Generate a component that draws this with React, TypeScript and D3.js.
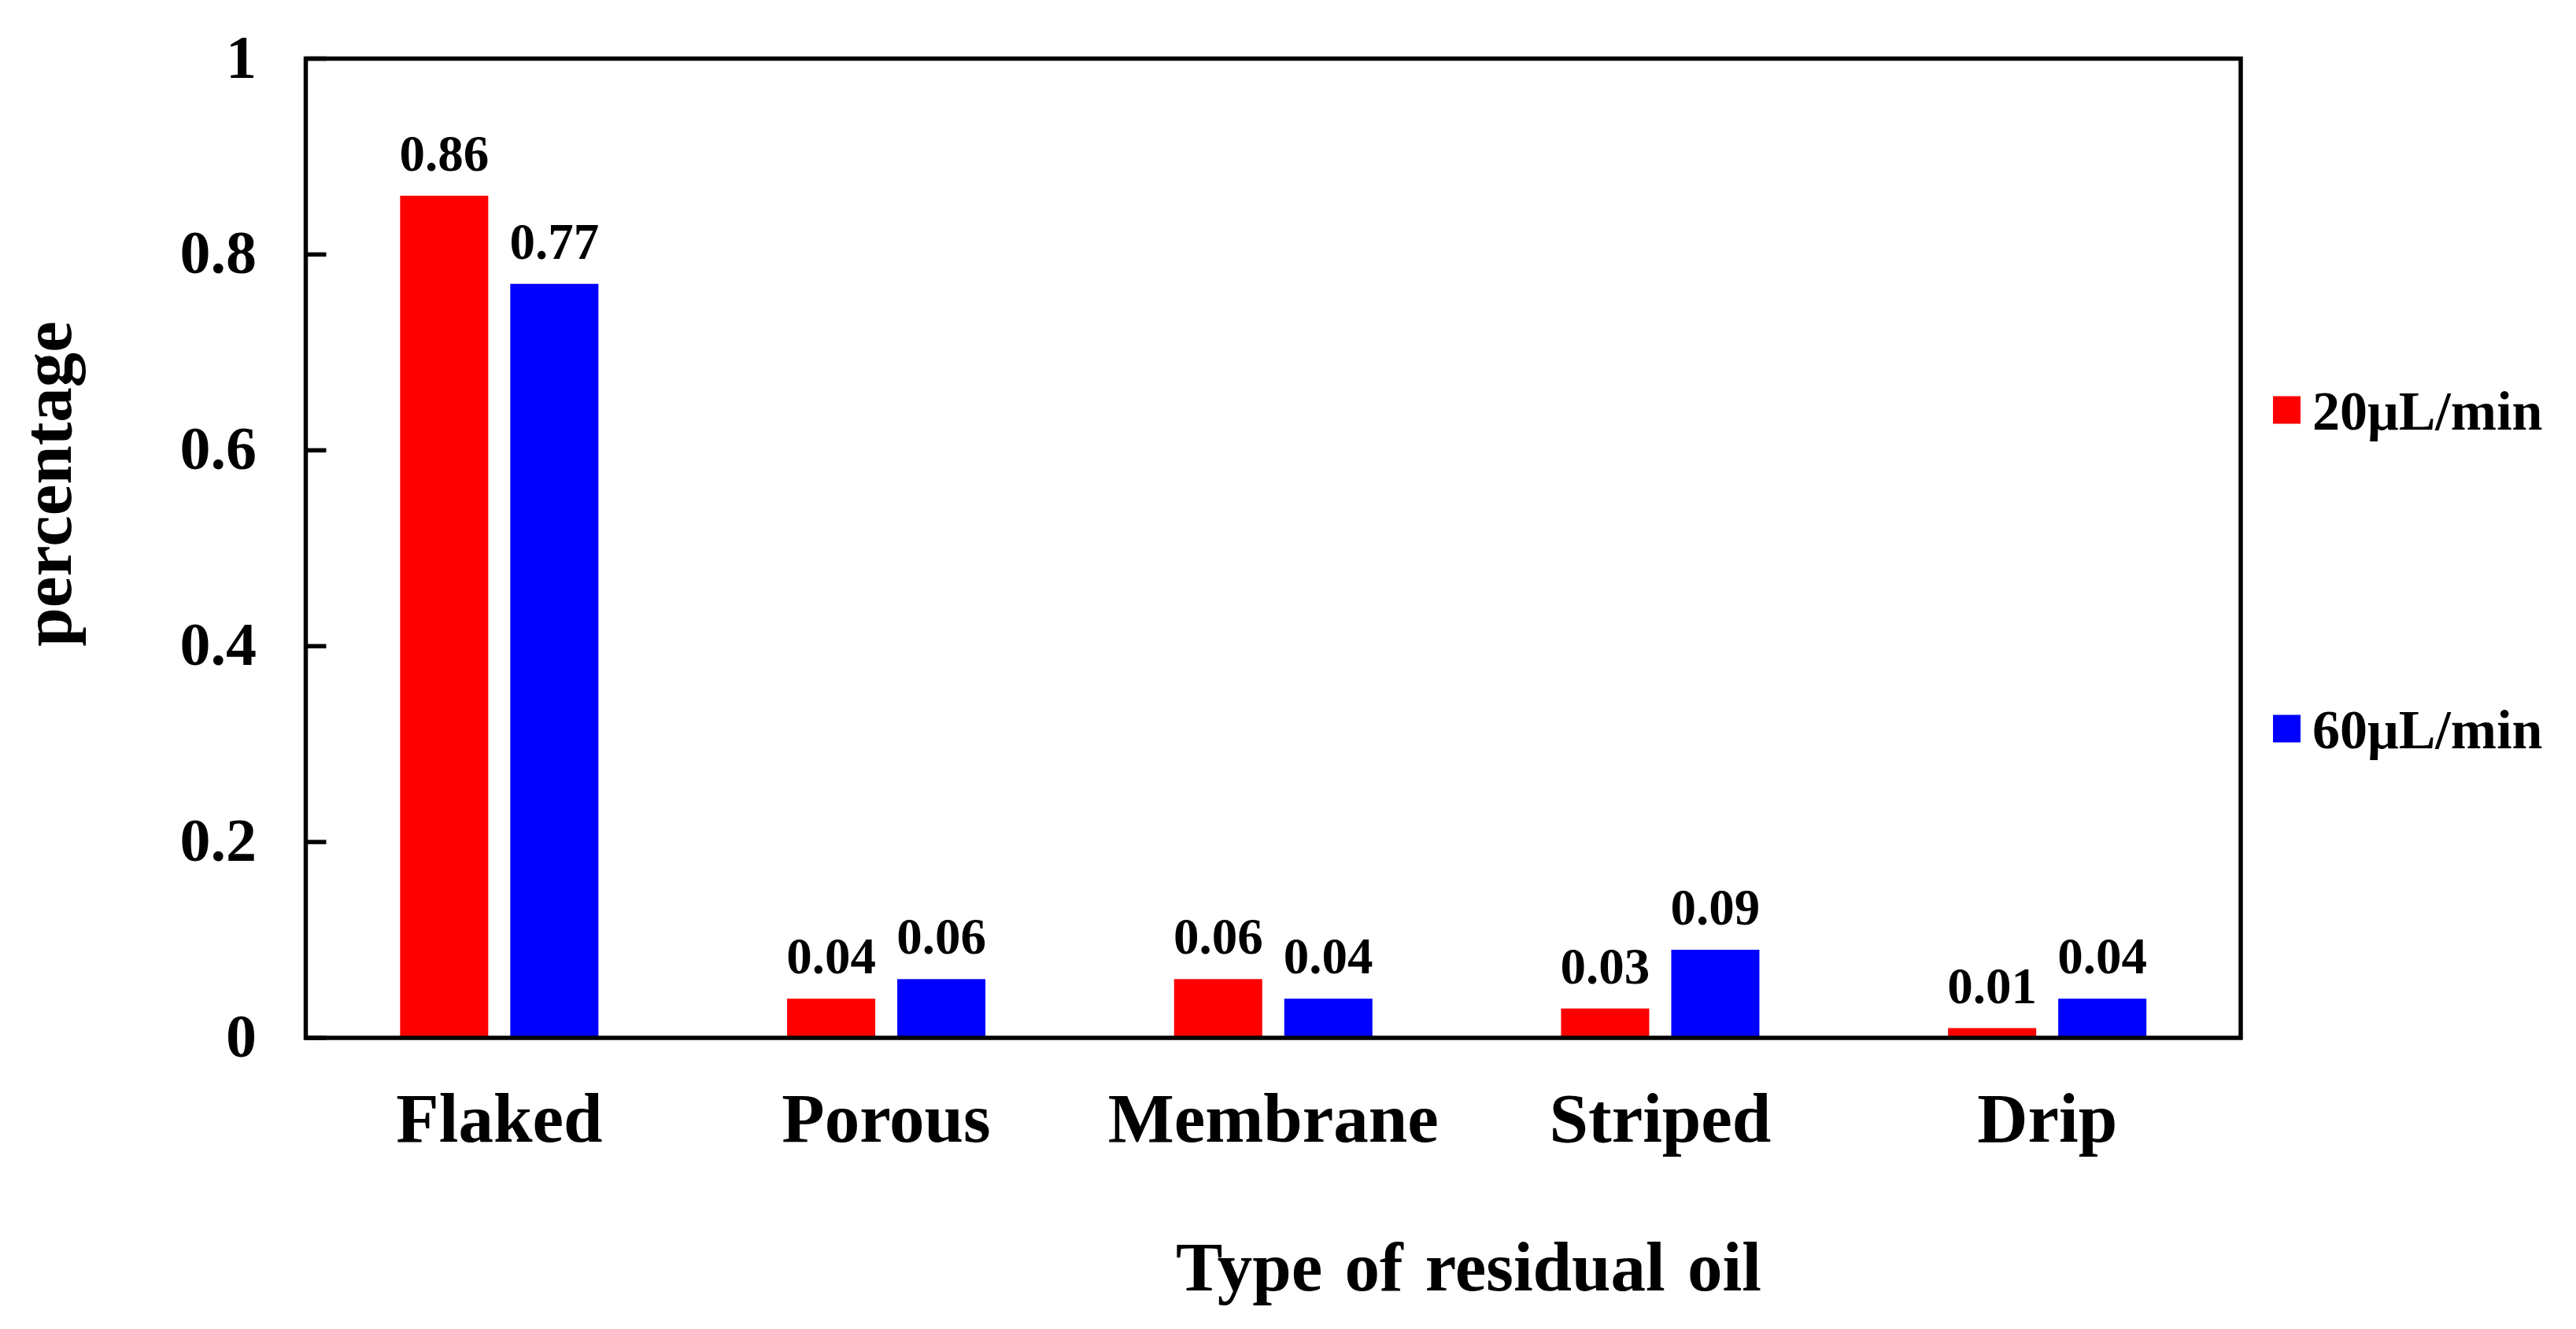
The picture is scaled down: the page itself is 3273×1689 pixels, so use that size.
import React from "react";
import * as d3 from "d3";

const categories = ["Flaked", "Porous", "Membrane", "Striped", "Drip"];
const seriesNames = ["20μL/min", "60μL/min"];
const series20 = [0.86, 0.04, 0.06, 0.03, 0.01];
const series60 = [0.77, 0.06, 0.04, 0.09, 0.04];
const yTicks = [0, 0.2, 0.4, 0.6, 0.8, 1];
const colors = ["#FF0000", "#0000FF"];

const W = 3273;
const H = 1689;
const FONT = '"Liberation Serif", "Times New Roman", Times, serif';

export default function App() {
  const left = 388.5;
  const right = 2847;
  const top = 74.5;
  const bottom = 1319;

  const y = d3.scaleLinear().domain([0, 1]).range([bottom, top]);
  const x0 = d3
    .scaleBand<string>()
    .domain(categories)
    .range([left, right])
    .paddingInner(0.4875)
    .paddingOuter(0.24375);
  const x1 = d3
    .scaleBand<string>()
    .domain(seriesNames)
    .range([0, x0.bandwidth()])
    .paddingInner(0.2)
    .paddingOuter(0);

  const values = [series20, series60];

  return (
    <svg
      width={W}
      height={H}
      style={{ position: "absolute", left: 0, top: 0, background: "#fff" }}
      fontFamily={FONT}
      fontWeight="bold"
    >
      <rect x={0} y={0} width={W} height={H} fill="#fff" />
      {categories.map((c, i) => (
        <g key={c}>
          {seriesNames.map((s, j) => {
            const v = values[j][i];
            const bx = (x0(c) as number) + (x1(s) as number);
            const bw = x1.bandwidth();
            return (
              <g key={s}>
                <rect x={bx} y={y(v)} width={bw} height={y(0) - y(v)} fill={colors[j]} />
                <text
                  x={bx + bw / 2}
                  y={y(v) - 32}
                  textAnchor="middle"
                  fontSize={65}
                  fill="#000"
                >
                  {v.toFixed(2)}
                </text>
              </g>
            );
          })}
          <text
            x={(x0(c) as number) + x0.bandwidth() / 2}
            y={1451}
            textAnchor="middle"
            fontSize={89}
            fill="#000"
          >
            {c}
          </text>
        </g>
      ))}
      {yTicks.map((t) => (
        <g key={t}>
          <line x1={left} x2={left + 26} y1={y(t)} y2={y(t)} stroke="#000" strokeWidth={5.5} />
          <text x={326} y={y(t) + 24} textAnchor="end" fontSize={78} fill="#000">
            {String(t)}
          </text>
        </g>
      ))}
      <rect
        x={left}
        y={top}
        width={right - left}
        height={bottom - top}
        fill="none"
        stroke="#000"
        strokeWidth={5.5}
      />
      <text x={1866} y={1640} textAnchor="middle" fontSize={89} wordSpacing={6} fill="#000">
        Type of residual oil
      </text>
      <text
        transform={`translate(90,615) rotate(-90)`}
        textAnchor="middle"
        fontSize={89}
        fill="#000"
      >
        percentage
      </text>
      {seriesNames.map((s, j) => {
        const cy = [521, 926][j];
        return (
          <g key={s}>
            <rect x={2888} y={cy - 17.5} width={35} height={35} fill={colors[j]} />
            <text x={2938} y={cy + 25} fontSize={70} fill="#000">
              {s}
            </text>
          </g>
        );
      })}
    </svg>
  );
}
